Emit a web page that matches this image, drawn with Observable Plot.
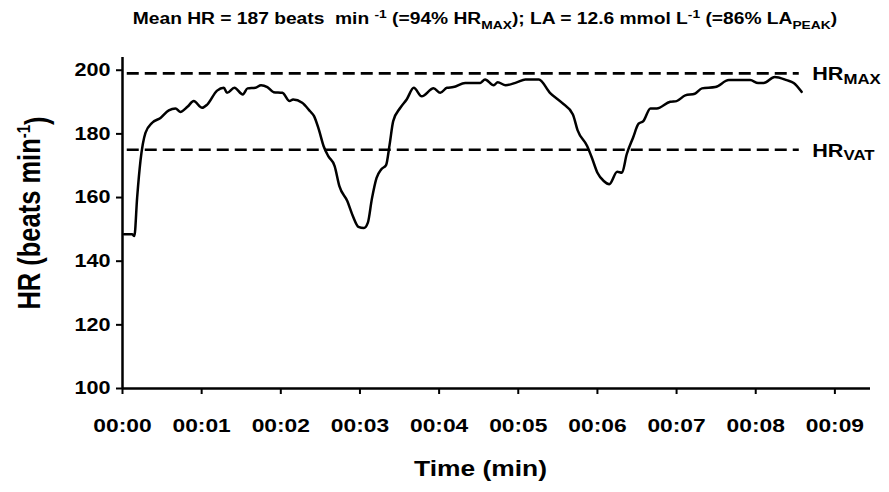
<!DOCTYPE html>
<html><head><meta charset="utf-8">
<script src="https://cdn.jsdelivr.net/npm/d3@7"></script>
<script src="https://cdn.jsdelivr.net/npm/@observablehq/plot@0.6"></script>
<style>
body{margin:0;background:#fff;font-family:Arial,"Liberation Sans",sans-serif;}
#title{height:36px;width:889px;position:relative;}
#title span{position:absolute;left:485px;top:8px;transform:translateX(-50%) scaleX(1.2);white-space:nowrap;font-weight:bold;font-size:16px;color:#000;}
#title sup,#title sub{font-size:0.72em;}
#chart svg{display:block;}
</style></head>
<body>
<div id="title"><span>Mean HR = 187 beats&nbsp; min <sup>-1</sup> (=94% HR<sub>MAX</sub>); LA = 12.6 mmol L<sup>-1</sup> (=86% LA<sub>PEAK</sub>)</span></div>
<div id="chart"></div>
<script>
// time in minutes
const timeMin = [0.02,0.12,0.15,0.185,0.227,0.29,0.375,0.48,0.585,0.67,0.73,0.82,0.9,1.006,1.07,1.195,1.28,1.32,1.414,1.52,1.58,1.68,1.75,1.83,1.91,2.02,2.11,2.155,2.27,2.37,2.42,2.48,2.54,2.6,2.68,2.74,2.84,2.91,2.98,3.05,3.1,3.15,3.21,3.27,3.33,3.375,3.42,3.51,3.59,3.68,3.78,3.93,4.015,4.1,4.18,4.33,4.52,4.58,4.69,4.74,4.84,4.98,5.09,5.26,5.4,5.55,5.69,5.75,5.87,5.93,6.0,6.08,6.15,6.25,6.31,6.37,6.45,6.52,6.58,6.67,6.75,6.92,7.0,7.11,7.23,7.32,7.49,7.66,7.93,8.03,8.1,8.24,8.39,8.48,8.58];
// heart rate, beats per minute
const hrBpm = [148.5,148.5,147.9,160,171.5,180.3,183.5,185,187.4,188,186.9,188.5,190.3,188.2,189.2,193.6,194.5,192.9,194.5,192.4,194.3,194.5,195.3,194.7,193.1,192.9,190.3,190.8,189.8,187.1,185.6,181.4,176.2,173,169.9,163.6,158.9,154.2,150.8,150.4,152.1,159.5,166.2,168.9,170.2,176.7,184,188.2,190.8,194.5,191.8,194.3,192.9,194.5,194.7,196,196,197.1,195.3,196.2,195.3,196.2,197.1,197.1,192.9,189.8,186.1,181.1,176.2,172.5,167.8,165.2,164.2,168.1,167.8,173.6,178.8,183.2,184,188,188,190.1,190.3,192.1,192.6,194.3,194.7,196.9,196.9,196,196,197.9,196.9,196,193.2];

const yTicks = [100,120,140,160,180,200];
const xTicks = [0,1,2,3,4,5,6,7,8,9];
const xTickLabels = ["00:00","00:01","00:02","00:03","00:04","00:05","00:06","00:07","00:08","00:09"];
const refLevels = [199, 175];
const refSubs = ["MAX","VAT"];
const refSpan = [0.06, 8.55];
const xLabel = "Time (min)";
const yLabel = "HR (beats min";

const data = timeMin.map((t,i)=>({t, hr: hrBpm[i]}));
const refs = refLevels.map((v,i)=>({v, sub: refSubs[i]}));

const chart = Plot.plot({
  width: 889,
  height: 456,
  marginTop: 21,
  marginBottom: 104,
  marginLeft: 122,
  marginRight: 19,
  style: {fontFamily: "Arial, 'Liberation Sans', sans-serif", color: "#000", background: "#fff"},
  x: {domain: [0, 9.45]},
  y: {domain: [100, 204]},
  marks: [
    Plot.ruleY(refs, {y: "v", x1: refSpan[0], x2: refSpan[1], stroke: "#000", strokeWidth: 2.6, strokeDasharray: "12,6"}),
    Plot.line(data, {x: "t", y: "hr", curve: "monotone-x", stroke: "#000", strokeWidth: 2.5, strokeLinejoin: "round", strokeLinecap: "round"}),
    Plot.ruleX([0], {y1: 100, y2: 204, stroke: "#000", strokeWidth: 2.5}),
    Plot.ruleY([100], {x1: 0, x2: 9.45, stroke: "#000", strokeWidth: 2.5}),
    Plot.axisY({ticks: yTicks, tickSize: 6, tickPadding: 6, strokeWidth: 2, fontSize: 18, fontWeight: "bold", label: null}),
    Plot.axisX({ticks: xTicks, tickFormat: (d) => xTickLabels[xTicks.indexOf(d)], tickSize: 6, tickPadding: 24, strokeWidth: 2, fontSize: 19, fontWeight: "bold", label: null}),
    Plot.text(refs, {x: refSpan[1], y: "v", text: () => "HR", dx: 13, dy: 1, textAnchor: "start", fontSize: 18, fontWeight: "bold", fill: "#000"}),
    Plot.text([xLabel], {frameAnchor: "bottom", textAnchor: "middle", dx: -16, dy: 87, text: d => d, fontSize: 22, fontWeight: "bold", fill: "#000"}),
    Plot.text([yLabel], {frameAnchor: "left", textAnchor: "middle", dx: -92, dy: -10, rotate: -90, text: d => d, fontSize: 25.5, fontWeight: "bold", fill: "#000"})
  ]
});
document.getElementById("chart").appendChild(chart);

const svg = d3.select(chart);
// subscripts for the reference-line labels
svg.selectAll("text").filter(function(){ return this.textContent === "HR"; }).each(function(d, j){
  d3.select(this).append("tspan").attr("dy", "0.25em").attr("font-size", "14px").text(refSubs[j]);
});
// superscript for the y label
svg.selectAll("text").filter(function(){ return this.textContent === yLabel; }).each(function(){
  const t = d3.select(this);
  t.append("tspan").attr("dy", "-0.55em").attr("font-size", "15px").text("-1");
  t.append("tspan").attr("dy", "0.55em").text(")");
});
// the reference figure's text is horizontally stretched
svg.selectAll("text").each(function(){
  const tr = this.getAttribute("transform");
  if (tr) {
    const m = tr.match(/^(translate\([^)]*\))(.*)$/);
    if (m) this.setAttribute("transform", m[1] + " scale(1.2,1)" + m[2]);
  } else {
    const x = +this.getAttribute("x") || 0, y = +this.getAttribute("y") || 0;
    this.setAttribute("transform", `translate(${x},${y}) scale(1.2,1) translate(${-x},${-y})`);
  }
});
</script>
</body></html>
